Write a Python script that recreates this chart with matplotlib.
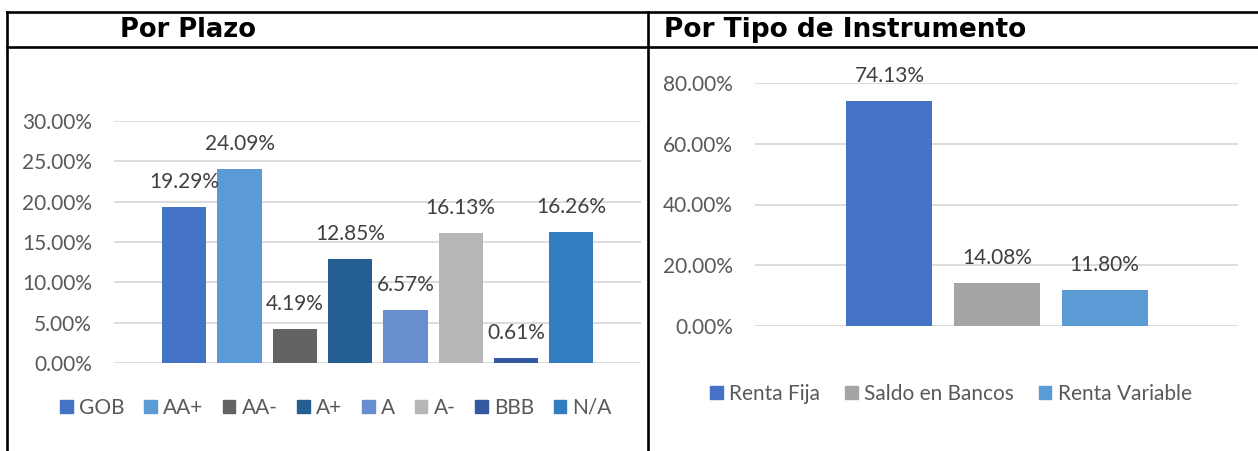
import matplotlib
matplotlib.use("Agg")
import matplotlib.pyplot as plt
from matplotlib.lines import Line2D
from matplotlib.patches import Patch

# ---------------------------------------------------------------- data
plazo_cats = ["GOB", "AA+", "AA-", "A+", "A", "A-", "BBB", "N/A"]
plazo_vals = [19.29, 24.09, 4.19, 12.85, 6.57, 16.13, 0.61, 16.26]
plazo_colors = ["#4472C4", "#5B9BD5", "#636363", "#255E91",
                "#698ED0", "#B7B7B7", "#335AA1", "#327DC2"]
plazo_ticks = [0, 5, 10, 15, 20, 25, 30]

tipo_cats = ["Renta Fija", "Saldo en Bancos", "Renta Variable"]
tipo_vals = [74.13, 14.08, 11.80]
tipo_colors = ["#4472C4", "#A5A5A5", "#5B9BD5"]
tipo_ticks = [0, 20, 40, 60, 80]

W, H = 1258, 451
FONT = "Lato"
FS = 15
TICK_C = "#595959"
LABEL_C = "#404040"
GRID_C = "#D9D9D9"


def px_axes(fig, x0, x1, ytop, ybot):
    """Axes placed by pixel coordinates (origin top-left)."""
    return fig.add_axes([x0 / W, (H - ybot) / H, (x1 - x0) / W, (ybot - ytop) / H])


def bar_panel(ax, cats, vals, colors, ticks, xlim):
    x = range(len(cats))
    ax.bar(x, vals, width=0.8, color=colors, zorder=3)
    for t in ticks:
        ax.axhline(t, color=GRID_C, lw=1.3, zorder=1)
    for xi, v in zip(x, vals):
        ax.annotate(f"{v:.2f}%", (xi, v), xytext=(0, 18), textcoords="offset points",
                    ha="center", va="center", fontsize=FS, color=LABEL_C,
                    family=FONT, zorder=4)
    ax.set_ylim(ticks[0], ticks[-1])
    ax.set_xlim(*xlim)
    ax.set_yticks(ticks)
    ax.set_yticklabels([f"{t:.2f}%" for t in ticks], family=FONT,
                       fontsize=FS, color=TICK_C)
    ax.set_xticks([])
    ax.tick_params(axis="y", length=0, pad=16)
    for sp in ax.spines.values():
        sp.set_visible(False)
    ax.patch.set_alpha(0)


fig = plt.figure(figsize=(W / 100, H / 100), dpi=100)

# left panel: Por Plazo
ax1 = px_axes(fig, 114, 641, 121, 363)
bar_panel(ax1, plazo_cats, plazo_vals, plazo_colors, plazo_ticks, (-1.27, 8.26))
fig.legend([Patch(color=c) for c in plazo_colors], plazo_cats, loc="center",
           bbox_to_anchor=(336 / W, 1 - 408 / H), ncol=8, frameon=False,
           handlelength=0.6, handleheight=0.6, handletextpad=0.3, columnspacing=0.95,
           prop={"family": FONT, "size": FS}, labelcolor=TICK_C)

# right panel: Por Tipo de Instrumento
ax2 = px_axes(fig, 755, 1238, 83, 326)
bar_panel(ax2, tipo_cats, tipo_vals, tipo_colors, tipo_ticks, (-1.25, 3.24))
fig.legend([Patch(color=c) for c in tipo_colors], tipo_cats, loc="center",
           bbox_to_anchor=(951 / W, 1 - 394 / H), ncol=3, frameon=False,
           handlelength=0.6, handleheight=0.6, handletextpad=0.3, columnspacing=1.2,
           prop={"family": FONT, "size": FS}, labelcolor=TICK_C)

# table-like frame and headers
for (x0, y0, x1, y1) in [(7, 12, W, 12), (7, 47, W, 47),
                         (7, 12, 7, H), (648, 12, 648, H)]:
    fig.add_artist(Line2D([x0 / W, x1 / W], [1 - y0 / H, 1 - y1 / H],
                          color="black", lw=1.9, transform=fig.transFigure))

fig.text(120 / W, 1 - 30 / H, "Por Plazo", ha="left", va="center",
         fontsize=18.5, fontweight="bold", family="DejaVu Sans")
fig.text(664 / W, 1 - 30 / H, "Por Tipo de Instrumento", ha="left", va="center",
         fontsize=19, fontweight="bold", family="DejaVu Sans")

fig.savefig("out.png", dpi=100)
